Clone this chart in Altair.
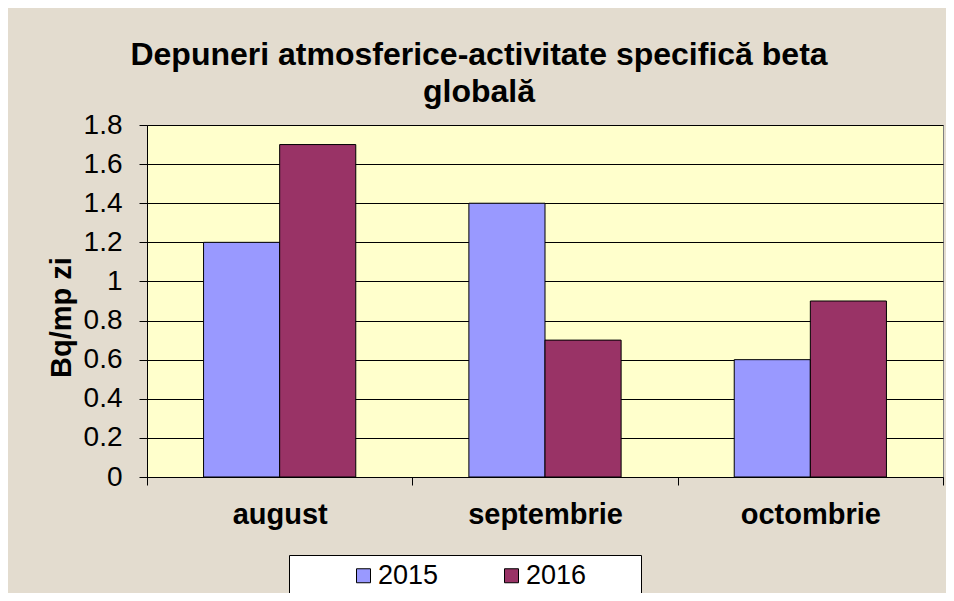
import altair as alt
import pandas as pd

months = ["august", "septembrie", "octombrie"]
years = ["2015", "2016"]
values_2015 = [1.2, 1.4, 0.6]
values_2016 = [1.7, 0.7, 0.9]
y_ticks = [0, 0.2, 0.4, 0.6, 0.8, 1.0, 1.2, 1.4, 1.6, 1.8]
colors = ["#9999ff", "#993366"]
title_lines = ["Depuneri atmosferice-activitate specifică beta", "globală"]
y_title = "Bq/mp zi"

rows = []
for m, a, b in zip(months, values_2015, values_2016):
    rows.append({"luna": m, "an": years[0], "val": a})
    rows.append({"luna": m, "an": years[1], "val": b})
df = pd.DataFrame(rows)

FONT = "Liberation Sans"
PAD = "\u00a0\u2800\u2800"

chart = alt.Chart(df).mark_bar(stroke="black", strokeWidth=1).encode(
    x=alt.X("luna:N", sort=months, title=None,
            scale=alt.Scale(paddingInner=0, paddingOuter=0),
            axis=alt.Axis(tickBand="extent", labelAngle=0, labelFontSize=29,
                          labelFontWeight="bold", labelFont=FONT, labelColor="black",
                          labelBaseline="top", labelPadding=15, tickSize=8,
                          tickColor="black", domainColor="black", grid=False)),
    xOffset=alt.XOffset("an:N", sort=years,
                        scale=alt.Scale(paddingInner=0, paddingOuter=0.743)),
    y=alt.Y("val:Q", title=y_title,
            scale=alt.Scale(domain=[0, 1.8], nice=False),
            axis=alt.Axis(values=y_ticks, labelExpr="format(datum.value, '.1~f')",
                          labelFontSize=28, labelFont=FONT, labelColor="black",
                          labelPadding=17, tickSize=8, tickColor="black",
                          domainColor="black", grid=True, gridColor="black",
                          gridWidth=1, titleFont=FONT, titleFontSize=29,
                          titleFontWeight="bold", titleColor="black",
                          titleAngle=270, titleAlign="center", titleBaseline="middle",
                          titleX=-86, titleY=192)),
    color=alt.Color("an:N", sort=years,
                    scale=alt.Scale(domain=years, range=colors),
                    legend=alt.Legend(orient="none", legendX=142, legendY=430,
                                      direction="horizontal", title="MMMM",
                                      titleOrient="left", titleFontSize=16,
                                      titleColor="transparent",
                                      titlePadding=0, fillColor="white",
                                      strokeColor="black", padding=7,
                                      symbolType="square", symbolSize=196,
                                      symbolStrokeColor="black", symbolStrokeWidth=1,
                                      labelFontSize=27, labelFont=FONT,
                                      labelColor="black", labelOffset=1,
                                      columnPadding=59,
                                      labelExpr="datum.label == '2016' ? datum.label + '" + PAD + "' : datum.label")),
).properties(
    width=796,
    height=352,
    title=alt.TitleParams(text=title_lines, fontSize=32, font=FONT, fontWeight="bold",
                          color="black", lineHeight=37, anchor="middle", dx=-66,
                          offset=2),
    autosize=alt.AutoSizeParams(type="none"),
    padding={"left": 139, "top": 117, "right": 3, "bottom": 116},
).configure(
    background="#e3dccf",
).configure_view(
    fill="#ffffcc",
    stroke="#808080",
    strokeWidth=1,
)

chart.save("out.html", embed_options={"renderer": "svg", "actions": False})
